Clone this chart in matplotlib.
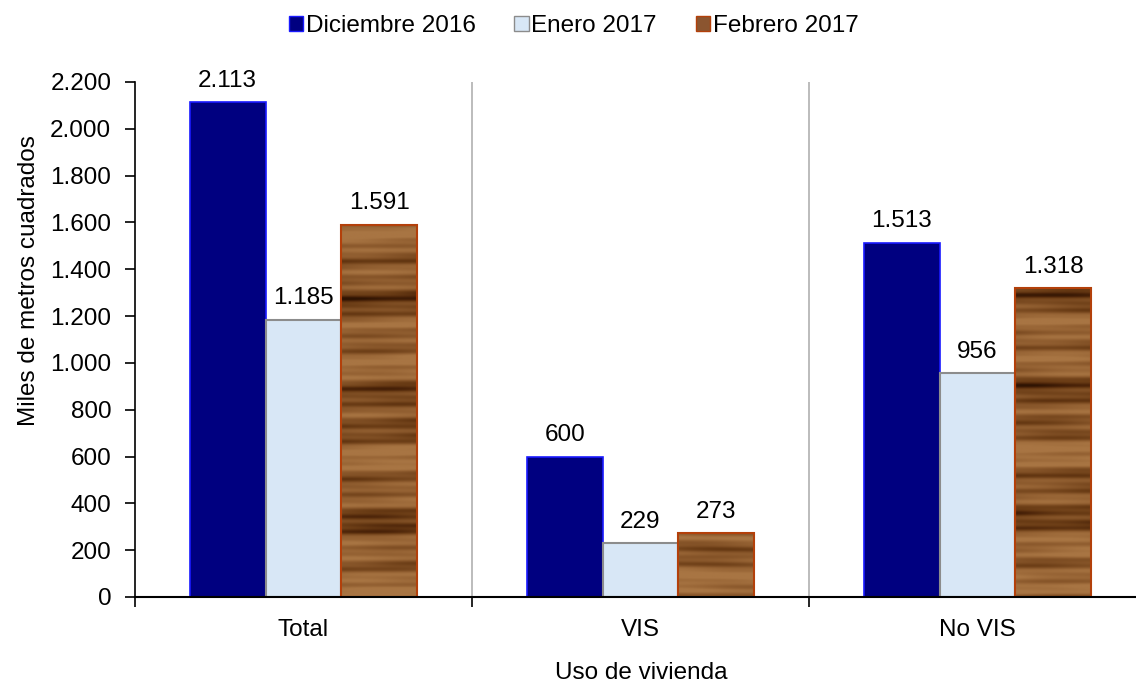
import matplotlib
matplotlib.use('Agg')
import matplotlib.pyplot as plt
import numpy as np
from matplotlib.patches import Patch
from matplotlib.colors import LinearSegmentedColormap
from matplotlib.ticker import FuncFormatter

categorias = ['Total', 'VIS', 'No VIS']
series = ['Diciembre 2016', 'Enero 2017', 'Febrero 2017']
diciembre = [2113, 600, 1513]
enero = [1185, 229, 956]
febrero = [1591, 273, 1318]

plt.rcParams['font.family'] = ['Liberation Sans', 'DejaVu Sans']
fs = 17.5

fig = plt.figure(figsize=(11.36, 6.85), dpi=100)
ax = fig.add_axes([0.1188, 0.1285, 0.890, 0.7518])

x = np.arange(len(categorias))
w = 0.225

b1 = ax.bar(x - w, diciembre, w, color='#000080', edgecolor='#1a1aff', linewidth=1.2, zorder=3)
b2 = ax.bar(x, enero, w, color='#d8e7f6', edgecolor='#8c8c8c', linewidth=1.5, zorder=3)
b3 = ax.bar(x + w, febrero, w, color='none', edgecolor='#b3400a', linewidth=1.5, zorder=4)

# textura de madera para febrero
wood = LinearSegmentedColormap.from_list(
    'wood', ['#2f1403', '#4c2409', '#6a3c15', '#815025', '#966334', '#a87543'])
yy = np.linspace(0, 1, 800)[:, None]
xx = np.linspace(0, 1, 200)[None, :]
tex = (np.sin(yy * 180 + 1.2 * np.sin(xx * 11)) * 0.30
       + np.sin(yy * 73 + 0.9 * np.sin(xx * 6 + 1)) * 0.35
       + np.sin(yy * 29 + 0.5 * np.sin(xx * 4)) * 0.30
       + np.sin(yy * 430 + xx * 5) * 0.15
       + np.sin(xx * 60 + yy * 20) * 0.06)
tex = (tex - tex.min()) / (tex.max() - tex.min())
tex = np.clip((tex - 0.05) * 1.4, 0, 1) ** 0.8
for bar in b3:
    im = ax.imshow(tex, cmap=wood, extent=(-0.5, 2.5, 0, 2200), aspect='auto',
                   origin='lower', zorder=2, interpolation='bilinear')
    im.set_clip_path(bar)

for bars, vals in zip([b1, b2, b3], [diciembre, enero, febrero]):
    for bar, v in zip(bars, vals):
        ax.text(bar.get_x() + bar.get_width() / 2, v + 45, f'{v:,}'.replace(',', '.'),
                ha='center', va='bottom', fontsize=fs)

for s in [0.5, 1.5]:
    ax.axvline(s, color='#b0b0b0', linewidth=1.2, zorder=1)

ax.set_xlim(-0.5, 2.5)
ax.set_ylim(0, 2200)
ax.set_yticks(range(0, 2201, 200))
ax.yaxis.set_major_formatter(FuncFormatter(lambda v, p: f'{int(v):,}'.replace(',', '.')))
ax.set_xticks(x)
ax.set_xticklabels(categorias)
ax.set_xticks([-0.5, 0.5, 1.5, 2.5], minor=True)
ax.tick_params(axis='x', which='major', length=0, pad=16, labelsize=fs)
ax.tick_params(axis='x', which='minor', length=7, width=1.2, direction='out')
ax.tick_params(axis='y', length=7, width=1.2, direction='out', labelsize=fs, pad=10)

for s in ['top', 'right']:
    ax.spines[s].set_visible(False)
ax.spines['left'].set_linewidth(1.2)
ax.spines['bottom'].set_linewidth(1.5)
ax.spines['bottom'].set_zorder(5)

ax.set_ylabel('Miles de metros cuadrados', fontsize=fs)
ax.yaxis.set_label_coords(-0.094, 0.614)
fig.text(641 / 1136, 12 / 685, 'Uso de vivienda', fontsize=fs, ha='center', va='center')

handles = [Patch(facecolor='#000080', edgecolor='#1a1aff'),
           Patch(facecolor='#d8e7f6', edgecolor='#8c8c8c'),
           Patch(facecolor='#8b5530', edgecolor='#b3400a')]
fig.legend(handles, series, loc='upper center', bbox_to_anchor=(0.505, 1.01), ncol=3,
           frameon=False, fontsize=fs, handlelength=0.6, handleheight=0.6,
           handletextpad=0.1, columnspacing=1.6)

fig.savefig('out.png', dpi=100)
